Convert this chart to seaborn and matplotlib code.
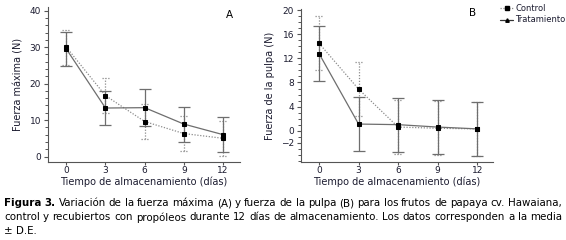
import numpy as np
import pandas as pd
import seaborn as sns
import matplotlib as mpl
from matplotlib import pyplot as plt
from matplotlib.ticker import MultipleLocator

sns.set_style("ticks")
plt.rcParams['font.family'] = ['DejaVu Sans']

days = [0, 3, 6, 9, 12]
groups = ["Control", "Tratamiento"]

# Fuerza maxima (N), panel A
fmax_control = [30.0, 16.7, 9.6, 6.3, 5.0]
fmax_control_sd = [4.8, 4.8, 4.8, 4.8, 4.8]
fmax_trat = [29.5, 13.3, 13.4, 8.9, 6.0]
fmax_trat_sd = [4.7, 4.7, 5.0, 4.8, 4.8]

# Fuerza de la pulpa (N), panel B
pulpa_control = [14.5, 6.9, 0.6, 0.4, 0.3]
pulpa_control_sd = [4.5, 4.5, 4.5, 4.5, 4.5]
pulpa_trat = [12.8, 1.1, 1.0, 0.6, 0.3]
pulpa_trat_sd = [4.5, 4.5, 4.5, 4.5, 4.5]

xlabel = "Tiempo de almacenamiento (días)"
caption = [
    "Figura 3. Variación de la fuerza máxima (A) y fuerza de la pulpa (B) para los frutos de papaya cv. Hawaiana,",
    "control y recubiertos con propóleos durante 12 días de almacenamiento. Los datos corresponden a la media",
    "± D.E.",
]

W, H = 566, 240
line_col = {"Control": "#8c8c8c", "Tratamiento": "#6e6e6e"}
dotted = (0, (1, 1.3))
dash = {"Control": (1, 1.3), "Tratamiento": ""}
text_col = "#1c1c30"


def make_df(c, csd, t, tsd):
    rows = []
    for d, m, s in zip(days, c, csd):
        rows.append({"Dia": d, "Valor": m, "SD": s, "Grupo": "Control"})
    for d, m, s in zip(days, t, tsd):
        rows.append({"Dia": d, "Valor": m, "SD": s, "Grupo": "Tratamiento"})
    return pd.DataFrame(rows)


def panel(ax, df, ylabel, letter, letter_xy):
    for g in groups:
        sub = df[df["Grupo"] == g]
        if g == "Control":
            eb = ax.errorbar(sub["Dia"], sub["Valor"], yerr=sub["SD"], fmt="none",
                             ecolor=line_col[g], elinewidth=0.9, capsize=0)
            eb[2][0].set_linestyle(dotted)
            for y in [sub["Valor"] - sub["SD"], sub["Valor"] + sub["SD"]]:
                ax.hlines(y, sub["Dia"] - 0.3, sub["Dia"] + 0.3, colors=line_col[g],
                          linewidth=0.9, linestyles=[dotted])
        else:
            ax.errorbar(sub["Dia"], sub["Valor"], yerr=sub["SD"], fmt="none",
                        ecolor=line_col[g], elinewidth=0.9, capsize=4, capthick=0.9)
    sns.lineplot(data=df, x="Dia", y="Valor", hue="Grupo", style="Grupo",
                 palette=line_col, dashes=dash, markers={"Control": "s", "Tratamiento": "s"},
                 markersize=3.2, markerfacecolor="black", markeredgecolor="black",
                 linewidth=0.9, legend=False, ax=ax)
    ax.set_xticks(days)
    ax.set_xlabel(xlabel, fontsize=7, color=text_col, labelpad=1)
    ax.set_ylabel(ylabel, fontsize=7, color=text_col, labelpad=4)
    ax.tick_params(axis="both", labelsize=6.5, colors="#555555", labelcolor=text_col,
                   length=3, width=0.8, pad=2)
    ax.tick_params(axis="x", length=2.5, pad=0.5)
    ax.tick_params(axis="y", which="minor", length=2, width=0.7, colors="#555555")
    for s in ["top", "right"]:
        ax.spines[s].set_visible(False)
    for s in ["left", "bottom"]:
        ax.spines[s].set_color("#555555")
        ax.spines[s].set_linewidth(0.8)
    ax.text(*letter_xy, letter, transform=ax.transAxes, fontsize=7.5, color="black",
            ha="center", va="center")


fig = plt.figure(figsize=(W / 100, H / 100), dpi=100)
axA = fig.add_axes([48 / W, 1 - 162 / H, (240 - 48) / W, (162 - 7) / H])
axB = fig.add_axes([301 / W, 1 - 162 / H, (493 - 301) / W, (162 - 9) / H])

dfA = make_df(fmax_control, fmax_control_sd, fmax_trat, fmax_trat_sd)
dfB = make_df(pulpa_control, pulpa_control_sd, pulpa_trat, pulpa_trat_sd)

panel(axA, dfA, "Fuerza máxima (N)", "A", ((229 - 48) / 192, 1 - (15 - 7) / 155))
axA.set_xlim(-1.4, 13.3)
axA.set_ylim(-1.5, 41)
axA.set_yticks([0, 10, 20, 30, 40])
axA.yaxis.set_minor_locator(MultipleLocator(2))

panel(axB, dfB, "Fuerza de la pulpa (N)", "B", ((473 - 301) / 192, 1 - (13 - 9) / 153))
axB.set_xlim(-1.37, 13.2)
axB.set_ylim(-5.2, 20.2)
axB.set_yticks([-2, 0, 4, 8, 12, 16, 20])
axB.yaxis.set_minor_locator(MultipleLocator(1))

handles = [
    mpl.lines.Line2D([], [], color=line_col["Control"], linestyle=dotted, linewidth=0.9,
                     marker="s", markersize=2.5, markerfacecolor="black", markeredgecolor="black"),
    mpl.lines.Line2D([], [], color="#333333", linestyle="-", linewidth=0.9,
                     marker="^", markersize=2.5, markerfacecolor="black", markeredgecolor="black"),
]
leg = fig.legend(handles, groups, loc="upper left", bbox_to_anchor=(500 / W, 1 - 4 / H),
                 frameon=False, fontsize=6, handlelength=1.6, handletextpad=0.2,
                 labelspacing=0.3, borderaxespad=0, borderpad=0)
for t in leg.get_texts():
    t.set_color(text_col)

# caption, justified like the original
cap_size = 7.4
renderer = fig.canvas.get_renderer()
x0, x1 = 4, 562
ys = [203, 217.5, 231.5]
for i, line in enumerate(caption):
    words = line.split(" ")
    texts = []
    for j, w in enumerate(words):
        bold = (i == 0 and j < 2)
        texts.append(fig.text(0, 1 - ys[i] / H, w, fontsize=cap_size, color="black",
                              fontweight="bold" if bold else "normal", va="center"))
    widths = [t.get_window_extent(renderer).width for t in texts]
    if i < len(caption) - 1 and len(words) > 1:
        gap = (x1 - x0 - sum(widths)) / (len(words) - 1)
    else:
        gap = 3.0
    x = x0
    for t, w in zip(texts, widths):
        t.set_x(x / W)
        x += w + gap

fig.savefig("out.png", dpi=100)
